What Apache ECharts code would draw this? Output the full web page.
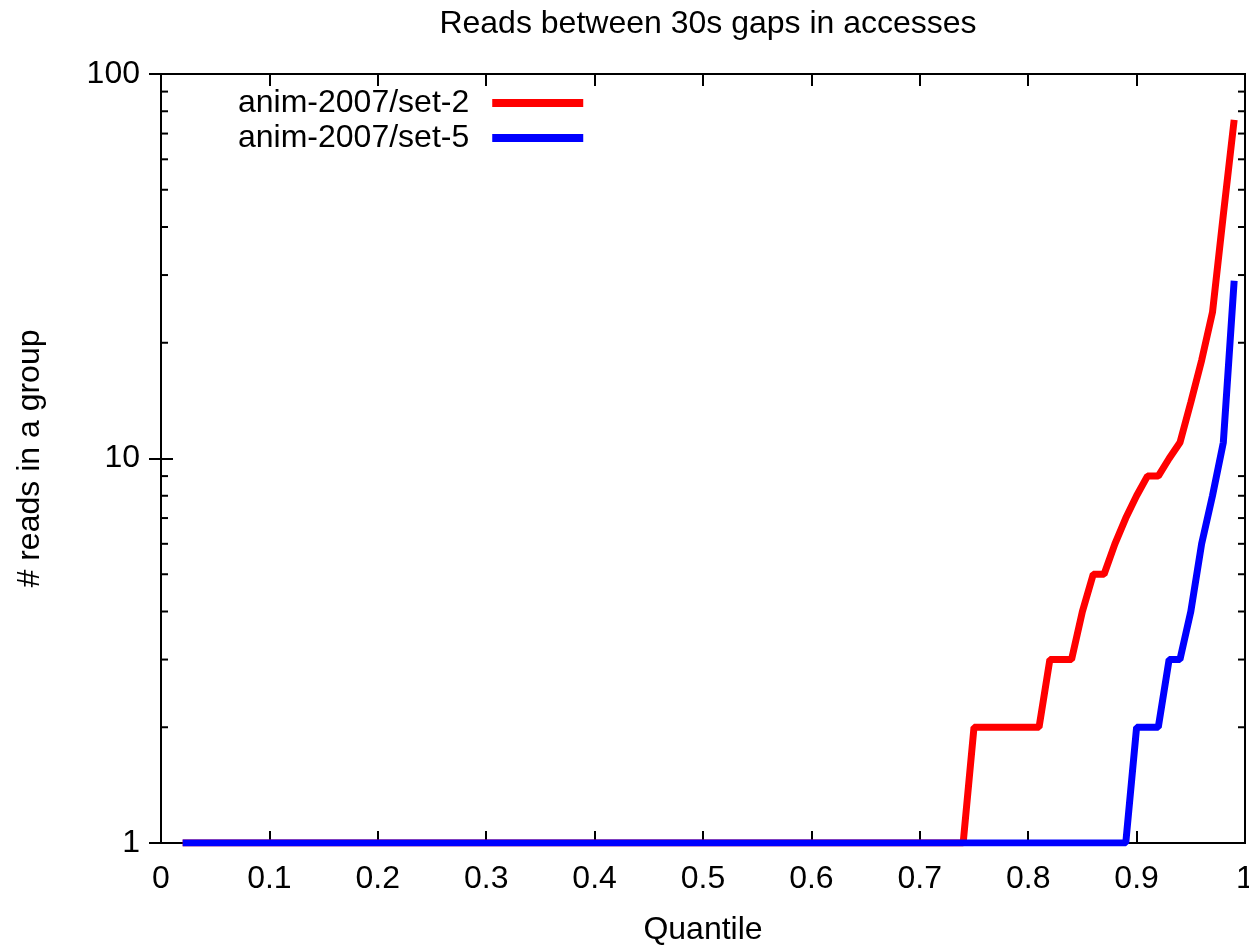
<!DOCTYPE html>
<html>
<head>
<meta charset="utf-8">
<script src="https://cdn.jsdelivr.net/npm/echarts@6/dist/echarts.min.js"></script>
<style>
  html, body { margin: 0; padding: 0; background: #fff; }
  #chart { width: 1249px; height: 947px; }
</style>
</head>
<body>
<div id="chart"></div>
<script>
// anim-2007/set-2
const quantilesSet2 = [0.02, 0.74, 0.75, 0.81, 0.82, 0.84, 0.85, 0.86, 0.87, 0.88, 0.89, 0.90, 0.91, 0.92, 0.93, 0.94, 0.95, 0.96, 0.97, 0.98, 0.99];
const readsSet2 = [1, 1, 2, 2, 3, 3, 4, 5, 5, 6, 7, 8, 9, 9, 10, 11, 14, 18, 24, 43, 76];
// anim-2007/set-5
const quantilesSet5 = [0.02, 0.89, 0.90, 0.92, 0.93, 0.94, 0.95, 0.96, 0.97, 0.98, 0.99];
const readsSet5 = [1, 1, 2, 2, 3, 3, 4, 6, 8, 11, 29];
// minor ticks of the log axis
const minorTicks = [2, 3, 4, 5, 6, 7, 8, 9, 20, 30, 40, 50, 60, 70, 80, 90];

const FONT = '"Liberation Sans", Arial, sans-serif';

function pairs(xs, ys) {
    return xs.map((x, i) => [x, ys[i]]);
}

var chart = echarts.init(document.getElementById('chart'));

const tickStyle = { show: true, inside: true, length: 12, lineStyle: { color: '#000', width: 2 } };
const lineStyle = { show: true, lineStyle: { color: '#000', width: 2 } };

chart.setOption({
    animation: false,
    backgroundColor: '#fff',
    title: {
        text: 'Reads between 30s gaps in accesses',
        left: 703,
        textAlign: 'center',
        top: 3,
        textStyle: { fontFamily: FONT, fontSize: 32, fontWeight: 'normal', color: '#000' }
    },
    legend: {
        orient: 'vertical',
        left: 238,
        top: 87,
        padding: 0,
        align: 'right',
        itemGap: 3,
        itemWidth: 91,
        itemHeight: 8,
        icon: 'rect',
        textStyle: { fontFamily: FONT, fontSize: 32, color: '#000', padding: [0, 18, 0, 0] },
        data: ['anim-2007/set-2', 'anim-2007/set-5']
    },
    grid: {
        left: 161,
        right: 4,
        top: 74,
        bottom: 104,
        outerBoundsMode: 'none',
        containLabel: false,
        show: true,
        borderColor: '#000',
        borderWidth: 2
    },
    xAxis: [{
        type: 'value',
        min: 0,
        max: 1,
        interval: 0.1,
        name: 'Quantile',
        nameLocation: 'middle',
        nameGap: 71,
        nameTextStyle: { fontFamily: FONT, fontSize: 32, color: '#000' },
        axisLine: lineStyle,
        axisTick: tickStyle,
        axisLabel: { fontFamily: FONT, fontSize: 32, color: '#000', margin: 20 },
        splitLine: { show: false }
    }, {
        type: 'value',
        position: 'top',
        min: 0,
        max: 1,
        interval: 0.1,
        axisLine: lineStyle,
        axisTick: tickStyle,
        axisLabel: { show: false },
        splitLine: { show: false }
    }],
    yAxis: [{
        type: 'log',
        logBase: 10,
        min: 1,
        max: 100,
        name: '# reads in a group',
        nameLocation: 'middle',
        nameGap: 115,
        nameTextStyle: { fontFamily: FONT, fontSize: 32, color: '#000' },
        axisLine: lineStyle,
        axisTick: tickStyle,
        axisLabel: { fontFamily: FONT, fontSize: 32, color: '#000', margin: 21 },
        splitLine: { show: false }
    }, {
        type: 'log',
        logBase: 10,
        min: 1,
        max: 100,
        position: 'right',
        axisLine: lineStyle,
        axisTick: tickStyle,
        axisLabel: { show: false },
        splitLine: { show: false }
    }],
    series: [
        {
            type: 'custom',
            silent: true,
            xAxisIndex: 0,
            yAxisIndex: 0,
            data: minorTicks.map(v => [0, v]),
            renderItem: function (params, api) {
                const left = api.coord([0, api.value(1)]);
                const right = api.coord([1, api.value(1)]);
                const st = { stroke: '#000', lineWidth: 2 };
                return {
                    type: 'group',
                    children: [
                        { type: 'line', shape: { x1: left[0], y1: left[1], x2: left[0] + 7, y2: left[1] }, style: st },
                        { type: 'line', shape: { x1: right[0], y1: right[1], x2: right[0] - 7, y2: right[1] }, style: st }
                    ]
                };
            }
        },
        {
            name: 'anim-2007/set-2',
            type: 'line',
            showSymbol: false,
            symbol: 'none',
            color: '#ff0000',
            lineStyle: { color: '#ff0000', width: 7 },
            data: pairs(quantilesSet2, readsSet2)
        },
        {
            name: 'anim-2007/set-5',
            type: 'line',
            showSymbol: false,
            symbol: 'none',
            color: '#0000ff',
            lineStyle: { color: '#0000ff', width: 7 },
            data: pairs(quantilesSet5, readsSet5)
        }
    ]
});
</script>
</body>
</html>
